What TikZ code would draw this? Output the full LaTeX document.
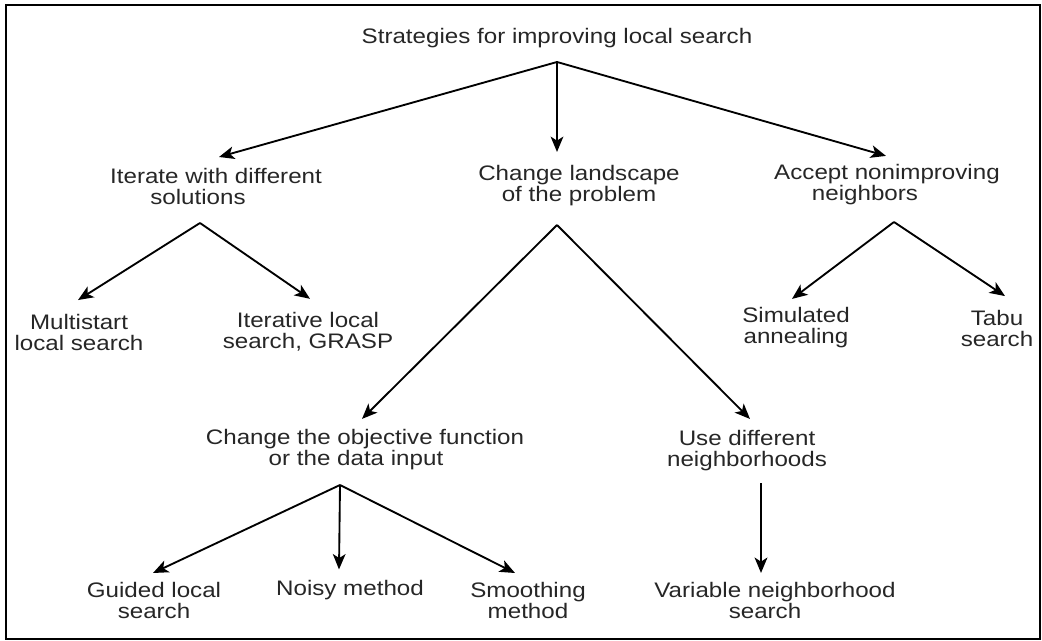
\documentclass[tikz,border=0pt]{standalone}
\usepackage{fontspec}
\setmainfont{Liberation Sans}[FakeStretch=1.15]
\usetikzlibrary{arrows.meta}
\definecolor{ink}{gray}{0.15}
\begin{document}
\begin{tikzpicture}[x=0.75pt,y=-0.75pt,
  lbl/.style={inner sep=0pt,align=center,text=ink,
    font=\fontsize{15.75pt}{15.75pt}\selectfont},
  arr/.style={line width=1.4pt,-{Stealth[length=11.5pt,width=9.5pt,inset=3pt]}},
  frame/.style={line width=1.5pt}]
\useasboundingbox (0,0) rectangle (1042,641);
\draw[frame] (6,5) rectangle (1040,639);

% labels
\node[lbl] (title)  at (557,38)  {Strategies for improving local search};
\node[lbl] (iter)   at (216,186) {Iterate with different\\\hspace*{-27pt}solutions};
\node[lbl] (land)   at (579,186) {Change landscape\\of the problem};
\node[lbl] (acc)    at (887,185) {Accept nonimproving\\\hspace*{-33pt}neighbors};
\node[lbl] (multi)  at (79,332)  {Multistart\\local search};
\node[lbl] (ils)    at (308,332) {Iterative local\\search, GRASP};
\node[lbl] (sa)     at (796,328) {Simulated\\annealing};
\node[lbl] (tabu)   at (997,328) {Tabu\\search};
\node[lbl] (obj)    at (365,450) {Change the objective function\\\hspace*{-13.5pt}or the data input};
\node[lbl] (use)    at (747,451) {Use different\\neighborhoods};
\node[lbl] (gls)    at (154,600) {Guided local\\search};
\node[lbl] (noisy)  at (350,590) {Noisy method};
\node[lbl] (smooth) at (528,600) {Smoothing\\method};
\node[lbl] (vns)    at (775,600) {Variable neighborhood\\\hspace*{-15pt}search};

% fan origins below each parent
\coordinate (o0) at (557,62);
\coordinate (o1) at (200,223);
\coordinate (o2) at (557,225);
\coordinate (o3) at (894,222);
\coordinate (o4) at (340,485);
\coordinate (o5) at (761,483);

% connectors
\draw[arr] (o0) -- ([xshift=2.25pt,yshift=7.9pt]iter.north);
\draw[arr] (o0) -- ([xshift=-16.5pt,yshift=10.1pt]land.north);
\draw[arr] (o0) -- ([xshift=-0.75pt,yshift=6.4pt]acc.north);
\draw[arr] (o1) -- ([xshift=-0.75pt,yshift=10.1pt]multi.north);
\draw[arr] (o1) -- ([xshift=1.5pt,yshift=10.1pt]ils.north);
\draw[arr] (o2) -- ([xshift=-2.25pt,yshift=7.9pt]obj.north);
\draw[arr] (o2) -- ([xshift=2.25pt,yshift=8.6pt]use.north);
\draw[arr] (o3) -- ([xshift=-3pt,yshift=6.4pt]sa.north);
\draw[arr] (o3) -- ([xshift=6pt,yshift=10.1pt]tabu.north);
\draw[arr] (o4) -- ([xshift=-0.75pt,yshift=6.4pt]gls.north);
\draw[arr] (o4) -- ([xshift=-8.25pt,yshift=7.9pt]noisy.north);
\draw[arr] (o4) -- ([xshift=-9.75pt,yshift=6.4pt]smooth.north);
\draw[arr,line width=1.9pt] (o5) -- ([xshift=-10.5pt,yshift=6.4pt]vns.north);
\end{tikzpicture}
\end{document}
